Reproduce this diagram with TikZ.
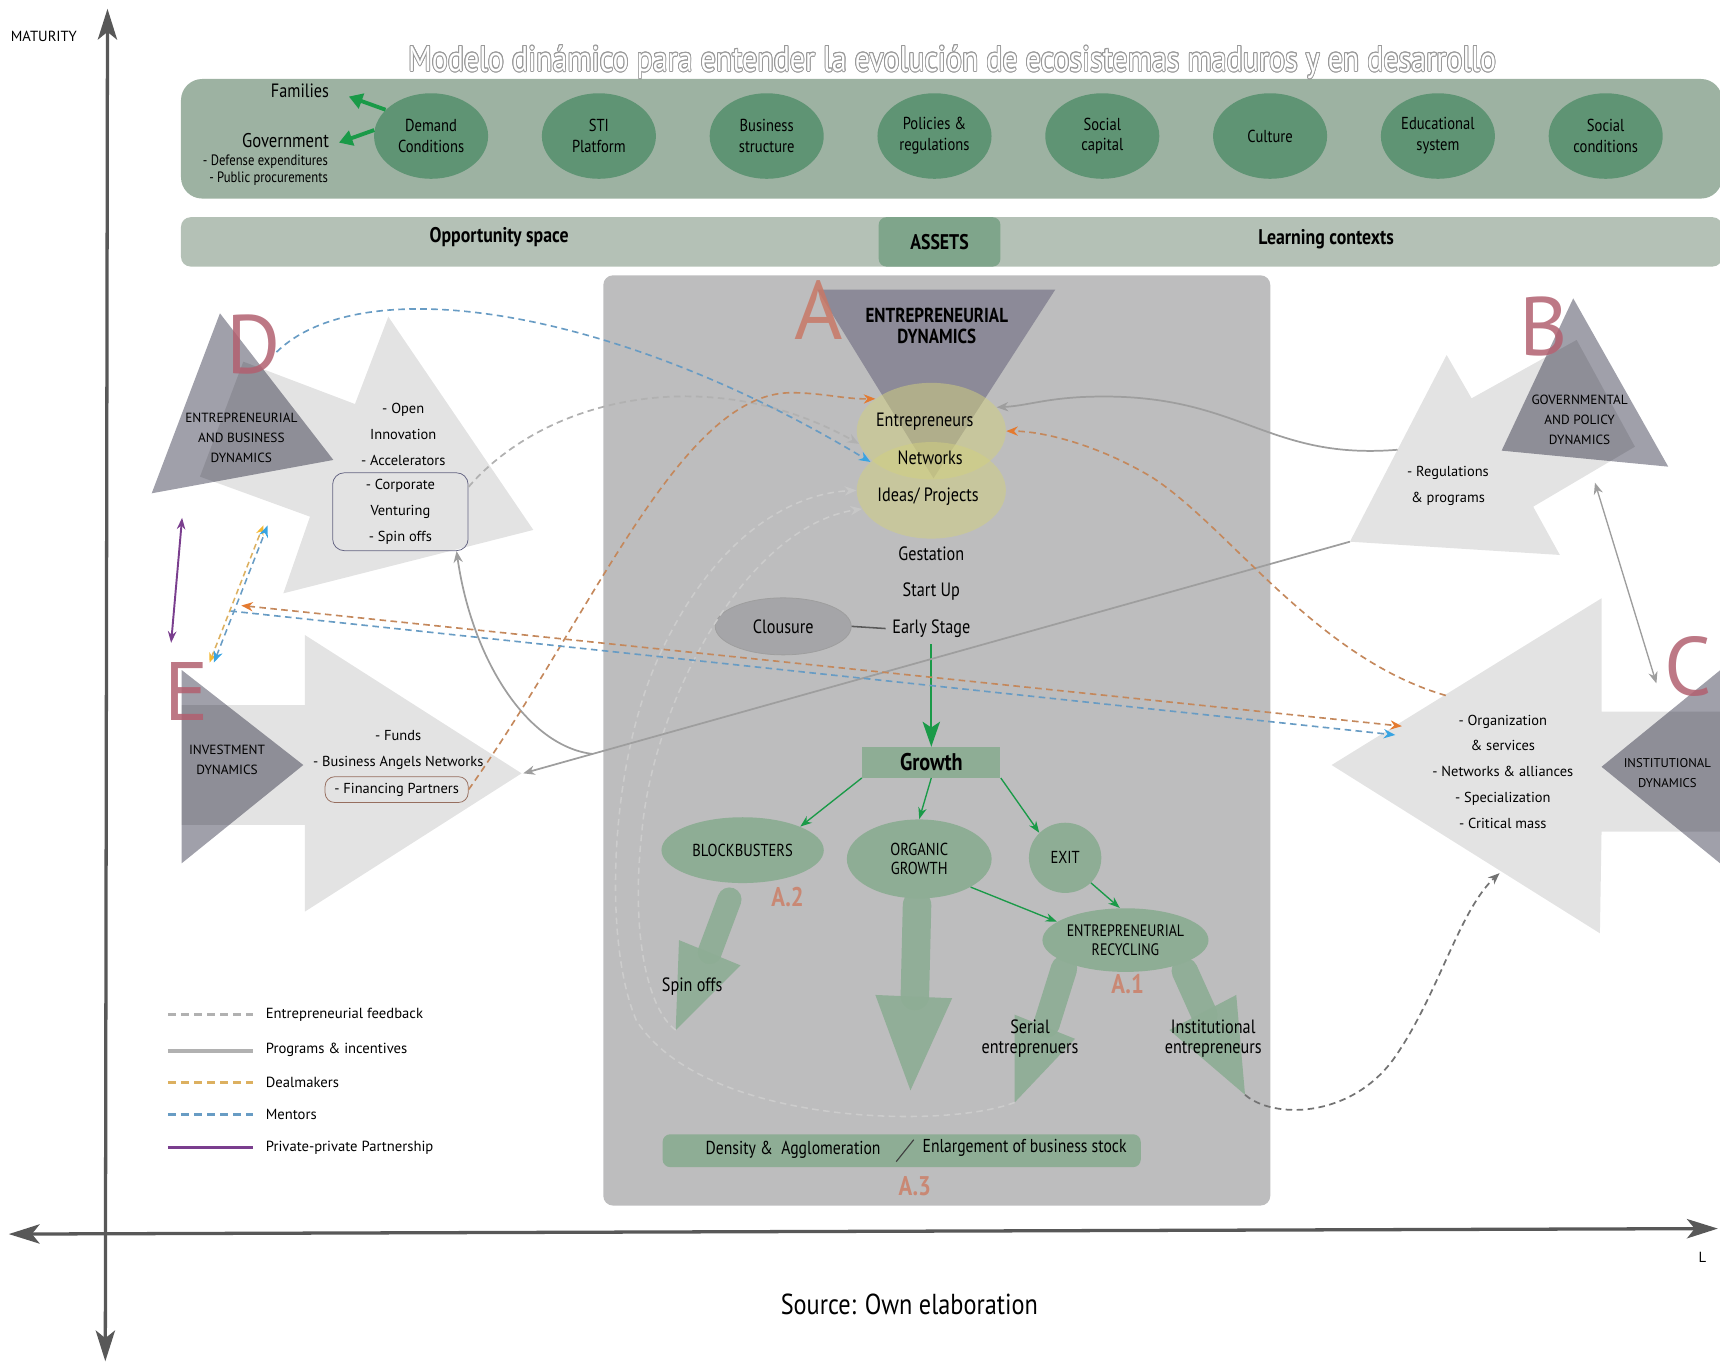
\documentclass[tikz,border=0pt]{standalone}
\usepackage{fontspec}
\setmainfont{PT Sans}
\newfontfamily\condfont[FakeStretch=0.84]{PT Sans}
\usepackage{contour}
\contourlength{0.45pt}
\usetikzlibrary{arrows.meta,positioning,shapes.geometric}

\definecolor{bandgreen}{RGB}{157,178,162}
\definecolor{circgreen}{RGB}{95,148,116}
\definecolor{bandlight}{RGB}{180,193,182}
\definecolor{assetgreen}{RGB}{127,165,139}
\definecolor{panelgray}{RGB}{189,189,190}
\definecolor{sage}{RGB}{142,173,149}
\definecolor{leafgreen}{RGB}{26,154,72}
\definecolor{duskgray}{RGB}{160,160,170}
\definecolor{slate}{RGB}{140,138,152}
\definecolor{roseletter}{RGB}{178,96,112}
\definecolor{aletter}{RGB}{200,120,102}
\definecolor{salmon}{RGB}{201,136,116}
\definecolor{oliveglow}{RGB}{210,208,128}
\definecolor{dealbrown}{RGB}{196,136,92}
\definecolor{tiporange}{RGB}{228,122,48}
\definecolor{mentorblue}{RGB}{104,156,196}
\definecolor{tipblue}{RGB}{56,164,226}
\definecolor{goldline}{RGB}{220,176,96}
\definecolor{tipgold}{RGB}{244,184,48}
\definecolor{plum}{RGB}{122,62,142}
\definecolor{axisgray}{RGB}{88,88,88}
\definecolor{progray}{RGB}{158,158,158}
\definecolor{boxrim}{RGB}{100,100,130}
\definecolor{finrim}{RGB}{150,110,95}
\definecolor{closefill}{RGB}{165,165,168}

\tikzset{
  axishead/.tip={Stealth[length=16pt,width=10pt,inset=4pt]},
  dealhead/.tip={Stealth[length=6pt,width=4.8pt,color=tiporange]},
  mentorhead/.tip={Stealth[length=6pt,width=4.8pt,color=tipblue]},
  goldhead/.tip={Stealth[length=5pt,width=4pt,color=tipgold]},
  greyhead/.tip={Stealth[length=6pt,width=4.8pt]},
  greenhead/.tip={Stealth[length=6pt,width=4.4pt]},
  axisline/.style={draw=axisgray,line width=1.7pt,axishead-axishead},
  axistext/.style={font=\fontsize{7.6}{8}\selectfont,inner sep=0pt},
  factorcirc/.style={ellipse,fill=circgreen,minimum width=2.08cm,minimum height=1.56cm,
    inner sep=0pt,align=center,font=\condfont\fontsize{9}{10.8}\selectfont},
  bandtext/.style={font=\condfont\bfseries\fontsize{11}{11}\selectfont},
  condtext/.style={align=center,font=\condfont\fontsize{10}{10.4}\selectfont},
  boldcond/.style={align=center,font=\condfont\bfseries\fontsize{10.5}{10.8}\selectfont},
  stage/.style={ellipse,fill=sage,inner sep=0pt,align=center,
    font=\condfont\fontsize{9}{10}\selectfont},
  yellowcirc/.style={ellipse,fill=oliveglow,fill opacity=.52,minimum width=2.72cm,
    minimum height=1.76cm,inner sep=0pt},
  listlabel/.style={align=center,font=\fontsize{7.5}{13.4}\selectfont},
  dynlabel/.style={align=center,font=\fontsize{6.9}{10.3}\selectfont},
  legtext/.style={anchor=west,inner sep=0pt,font=\fontsize{7.6}{8}\selectfont},
  bigletter/.style={text=roseletter,text opacity=.85,inner sep=0pt,
    font=\fontsize{43}{43}\selectfont},
  subtag/.style={text=salmon,font=\condfont\bfseries\fontsize{14}{14}\selectfont},
  dusk/.style={fill=duskgray},
  pale/.style={fill=black,fill opacity=.11},
  fatshaft/.style={draw=sage,line width=#1,line cap=round,opacity=.92},
  fathead/.style={fill=sage,opacity=.92},
  growarrow/.style={draw=leafgreen,line width=.7pt,-greenhead},
  demandarrow/.style={draw=leafgreen,line width=2pt,-{Triangle[length=7pt,width=8pt]}},
  feedback/.style={draw=progray!80,line width=.9pt,dash pattern=on 3.4pt off 2.3pt,-greyhead},
  feedbackin/.style={draw=white!80!black,line width=.8pt,dash pattern=on 3.4pt off 2.3pt,
    -{Stealth[length=6pt,width=4.8pt,color=white!78!black]}},
  feedbackdark/.style={draw=black!55,line width=.9pt,dash pattern=on 3.4pt off 2.3pt,-greyhead},
  dealline/.style={draw=dealbrown,line width=.85pt,dash pattern=on 3.4pt off 2.3pt},
  mentorline/.style={draw=mentorblue,line width=.85pt,dash pattern=on 3.4pt off 2.3pt},
  goldpair/.style={draw=goldline,line width=.8pt,dash pattern=on 3pt off 2pt,goldhead-goldhead},
  progline/.style={draw=progray,line width=.9pt,-greyhead},
  pppline/.style={draw=plum,line width=1pt,{Stealth[length=6pt,width=4.4pt]}-{Stealth[length=6pt,width=4.4pt]}}
}

\begin{document}
\begin{tikzpicture}[x=0.02cm,y=-0.02cm,line join=round]
\useasboundingbox (0,0) rectangle (1568,1242);

% bands of the ecosystem
\fill[bandgreen,rounded corners=11pt] (165,72) rectangle (1570,181);
\fill[bandlight,rounded corners=5pt] (165,198) rectangle (1570,243);
\fill[panelgray,rounded corners=5pt] (550,251) rectangle (1158,1099);

\node[text=white,font=\condfont\fontsize{18.5}{19}\selectfont] (title) at (868,57)
  {\contour{black!40}{Modelo dinámico para entender la evolución de ecosistemas maduros y en desarrollo}};

\node[factorcirc] (demand) at (393,124) {Demand\\Conditions};
\begin{scope}[node distance=3.06cm,on grid]
  \node[factorcirc] (sti) [right=of demand] {STI\\Platform};
  \node[factorcirc] (business) [right=of sti] {Business\\structure};
  \node[factorcirc] (policies) [right=of business] {Policies \&\\regulations};
  \node[factorcirc] (socialcap) [right=of policies] {Social\\capital};
  \node[factorcirc] (culture) [right=of socialcap] {Culture};
  \node[factorcirc] (education) [right=of culture] {Educational\\system};
  \node[factorcirc] (socialcond) [right=of education] {Social\\conditions};
\end{scope}

\node[anchor=east,inner sep=1pt,font=\condfont\fontsize{10}{11}\selectfont] (families) at (302,83) {Families};
\node[anchor=east,inner sep=1pt,font=\condfont\fontsize{10.3}{11}\selectfont] (government) at (302,128) {Government};
\node[anchor=east,inner sep=1pt,align=right,font=\condfont\fontsize{7.8}{9}\selectfont] (govlist) at (301,155)
  {- Defense expenditures\\- Public procurements};
\coordinate (famtip) at (318,88);
\coordinate (govtip) at (309,130);
\draw[demandarrow] (demand.150) -- (famtip);
\draw[demandarrow] (demand.174) -- (govtip);

\node[bandtext] (opportunity) at (455,216) {Opportunity space};
\node[bandtext,fill=assetgreen,rounded corners=4pt,minimum width=2.22cm,minimum height=.9cm] (assets) at (856.5,220.5) {ASSETS};
\node[bandtext] (learning) at (1209,218) {Learning contexts};

% D: entrepreneurial and business dynamics
\fill[dusk] (200.5,285.6) -- (138.3,449.7) -- (303.9,419.3) -- cycle;
\fill[pale] (221.8,329.7) -- (323.6,368.3) -- (354,288.7) -- (486.2,483.1) -- (258.3,540.9) -- (282.6,471) -- (182.3,434.5) -- cycle;
% B: governmental and policy dynamics
\fill[dusk] (1434.2,272) -- (1368.9,410.8) -- (1520.8,425.4) -- cycle;
\fill[pale] (1437.3,309.9) -- (1341.5,363.1) -- (1318.8,323.6) -- (1230.6,493.8) -- (1422,505.9) -- (1397.7,461.9) -- (1490.4,407.2) -- cycle;
% C: institutional dynamics
\fill[dusk] (1460,699) -- (1600,585) -- (1600,813) -- cycle;
\fill[pale] (1600,648.8) -- (1460,648.8) -- (1460,545.4) -- (1213.9,697.4) -- (1458.5,850.8) -- (1460,758.1) -- (1600,758.1) -- cycle;
% E: investment dynamics
\fill[dusk] (276.5,697.4) -- (165.6,610.8) -- (165.6,787) -- cycle;
\fill[pale] (165.6,642.7) -- (278,642.7) -- (278,578.9) -- (475.5,705) -- (278,831) -- (278,752) -- (165.6,752) -- cycle;

\node[bigletter] (dletter) at (231,314) {D};
\node[bigletter] (bletter) at (1407,298) {B};
\node[bigletter] (cletter) at (1539,608) {C};
\node[bigletter] (eletter) at (170,630) {E};

\node[dynlabel] (dlabel) at (220,399) {ENTREPRENEURIAL\\AND BUSINESS\\DYNAMICS};
\node[dynlabel] (blabel) at (1440,383) {GOVERNMENTAL\\AND POLICY\\DYNAMICS};
\node[dynlabel,font=\fontsize{6.6}{10.3}\selectfont] (clabel) at (1520,705) {INSTITUTIONAL\\DYNAMICS};
\node[dynlabel] (elabel) at (207,693) {INVESTMENT\\DYNAMICS};

\node[listlabel] (dlist) at (367.6,396) {- Open\\Innovation\\- Accelerators};
\node[listlabel,draw=boxrim,rounded corners=6pt,minimum width=2.47cm,minimum height=1.42cm] (dbox) at (365,466.5)
  {- Corporate\\Venturing\\- Spin offs};
\node[listlabel] (blist) at (1320,443) {- Regulations\\\& programs};
\node[listlabel] (clist) at (1370,703.5) {- Organization\\\& services\\- Networks \& alliances\\- Specialization\\- Critical mass};
\node[listlabel] (elist) at (363,683.6) {- Funds\\- Business Angels Networks};
\node[listlabel,draw=finrim,rounded corners=5pt,minimum width=2.61cm,minimum height=.47cm,inner sep=1pt] (finbox) at (361.6,719.8)
  {- Financing Partners};

% A: entrepreneurial dynamics
\fill[slate] (745,264) -- (962,264) -- (851,436) -- cycle;
\node[yellowcirc] (ecirc) at (849,393) {};
\node[yellowcirc] (icirc) at (849,447) {};
\node[bigletter,text=aletter] (aletter) at (746,283) {A};
\node[boldcond] (adyn) at (854,297) {ENTREPRENEURIAL\\DYNAMICS};
\node[condtext] (entre) at (843,384) {Entrepreneurs};
\node[condtext] (networks) at (848,417) {Networks};
\node[condtext] (ideas) at (846,453) {Ideas/ Projects};
\node[condtext] (gestation) at (849,505) {Gestation};
\begin{scope}[node distance=.68cm,on grid]
  \node[condtext] (startup) [below=of gestation] {Start Up};
  \node[condtext] (early) [below=of startup] {Early Stage};
\end{scope}
\node[condtext,ellipse,fill=closefill,draw=black!38,minimum width=2.48cm,minimum height=1.04cm,inner sep=0pt] (closure) at (714,571) {Clousure};
\draw[draw=black!65,line width=.8pt] (closure.east) -- (early.west);

\node[boldcond,fill=sage,minimum width=2.52cm,minimum height=.52cm,font=\condfont\bfseries\fontsize{12.5}{13}\selectfont] (growth) at (849,695) {Growth};
\draw[draw=leafgreen,line width=1.1pt,-{Stealth[length=13pt,width=9pt,inset=3pt]}] (early.south) -- (growth.north);

% fat arrows
\draw[fatshaft=.44cm] (665,820) -- (647,868);
\fill[fathead] (619,857) -- (675,880) -- (616,939) -- cycle;
\draw[fatshaft=.52cm] (836,825) -- (834,908);
\fill[fathead] (798,907) -- (868,910) -- (830,994) -- cycle;
\draw[fatshaft=.48cm] (970,883) -- (954,934);
\fill[fathead] (925,925) -- (980,947) -- (925,1005) -- cycle;
\draw[fatshaft=.48cm] (1080,885) -- (1098,925);
\fill[fathead] (1127,907) -- (1066,939) -- (1135,998) -- cycle;

\node[stage,minimum width=2.96cm,minimum height=1.2cm] (blockb) at (677,775) {BLOCKBUSTERS};
\node[stage,minimum width=2.64cm,minimum height=1.44cm] (organic) at (838,783) {ORGANIC\\GROWTH};
\node[stage,minimum width=1.32cm,minimum height=1.28cm] (exit) at (971,782) {EXIT};
\node[stage,minimum width=2.92cm,minimum height=1.16cm,font=\condfont\fontsize{8.6}{10}\selectfont] (recycle) at (1026,857) {ENTREPRENEURIAL\\RECYCLING};
\draw[growarrow] (growth.south west) -- (blockb.north east);
\draw[growarrow] (growth.south) -- (organic.north);
\draw[growarrow] (growth.south east) -- (exit.north west);
\draw[growarrow] (organic.south east) -- (recycle.165);
\draw[growarrow] (exit.south east) -- (recycle.100);

\node[subtag] (a2) at (718,818) {A.2};
\node[subtag] (a1) at (1028,897) {A.1};
\node[subtag] (a3) at (834,1081) {A.3};

\node[condtext] (spinoffs) at (631,899) {Spin offs};
\node[condtext] (serial) at (939,947) {Serial\\entreprenuers};
\node[condtext] (institutional) at (1106,947) {Institutional\\entrepreneurs};

\node[fill=sage,rounded corners=4pt,minimum width=8.72cm,minimum height=.6cm] (density) at (822,1049) {};
\node[condtext,font=\condfont\fontsize{9.7}{10}\selectfont] (densleft) at (723,1048) {Density \&\ \ Agglomeration};
\node[condtext,font=\condfont\fontsize{9.7}{10}\selectfont] (densright) at (934,1046) {Enlargement of business stock};
\coordinate (slashlo) at (817,1059);
\coordinate (slashhi) at (833,1039);
\draw[black!75,line width=.6pt] (slashlo) -- (slashhi);

% entrepreneurial feedback
\coordinate (spintip) at (616,939);
\coordinate (serialtip) at (925,1005);
\coordinate (insttip) at (1135,998);
\coordinate (corgtip) at (1367,796);
\draw[feedbackin] (serialtip) .. controls (860,1030) and (640,1025) .. (580,930)
  .. controls (550,860) and (555,700) .. (600,600) .. controls (650,490) and (720,450) .. (icirc.west);
\draw[feedbackin] (spintip) .. controls (590,920) and (575,850) .. (585,760)
  .. controls (595,640) and (680,480) .. (icirc.195);
\draw[feedback] (dbox.20) .. controls (500,360) and (650,330) .. (ecirc.190);
\draw[feedbackdark] (insttip) .. controls (1160,1020) and (1230,1020) .. (1270,966)
  .. controls (1310,910) and (1330,830) .. (corgtip);

% programs & incentives
\coordinate (bleft) at (1274,410);
\coordinate (bapex) at (1230.6,493.8);
\coordinate (eapex) at (477,705);
\coordinate (pjoin) at (540,687.3);
\draw[progline] (bleft) .. controls (1150,420) and (1130,355) .. (985,362) .. controls (950,364) and (935,370) .. (ecirc.20);
\draw[progline] (bapex) -- (eapex);
\draw[progline] (pjoin) .. controls (480,680) and (430,600) .. (dbox.-35);
\coordinate (bctop) at (1454,440);
\coordinate (bcbot) at (1510,623);
\draw[draw=progray,line width=.7pt,greyhead-greyhead] (bctop) -- (bcbot);

% dealmakers and mentors
\coordinate (cupper) at (1318,634);
\draw[dealline,-dealhead] (finbox.east) .. controls (540,560) and (620,360) .. (720,358)
  .. controls (750,358) and (770,364) .. (ecirc.150);
\draw[dealline,-dealhead] (cupper) .. controls (1200,600) and (1120,480) .. (1050,435)
  .. controls (1000,405) and (950,393) .. (ecirc.east);
\coordinate (deleft) at (220,552);
\coordinate (deright) at (1278,662);
\draw[dealline,dealhead-dealhead] (deleft) -- (deright);
\coordinate (meleft) at (210,557);
\coordinate (meright) at (1272,670);
\draw[mentorline,-mentorhead] (meleft) -- (meright);
\coordinate (dtip) at (252,321);
\draw[mentorline,-mentorhead] (dtip) .. controls (330,245) and (560,280) .. (icirc.155);
\coordinate (dgoldtop) at (240,479);
\coordinate (egoldbot) at (191,604);
\coordinate (dbluetop) at (244,479);
\coordinate (ebluebot) at (195,604);
\draw[goldpair] (egoldbot) -- (dgoldtop);
\draw[mentorline,line width=.8pt,mentorhead-mentorhead] (ebluebot) -- (dbluetop);
\coordinate (pppd) at (166,472);
\coordinate (pppe) at (156,586);
\draw[pppline] (pppe) -- (pppd);

% legend
\coordinate (leg1) at (153,925);  \coordinate (leg1e) at (231,925);
\coordinate (leg2) at (153,958);  \coordinate (leg2e) at (231,958);
\coordinate (leg3) at (153,987);  \coordinate (leg3e) at (231,987);
\coordinate (leg4) at (153,1016); \coordinate (leg4e) at (231,1016);
\coordinate (leg5) at (153,1046); \coordinate (leg5e) at (231,1046);
\draw[draw=progray!80,line width=1.6pt,dash pattern=on 4pt off 2.8pt] (leg1) -- (leg1e);
\draw[draw=progray!80,line width=2pt] (leg2) -- (leg2e);
\draw[draw=goldline,line width=1.7pt,dash pattern=on 4pt off 2.8pt] (leg3) -- (leg3e);
\draw[draw=mentorblue,line width=1.7pt,dash pattern=on 4pt off 2.8pt] (leg4) -- (leg4e);
\draw[draw=plum,line width=1.7pt] (leg5) -- (leg5e);
\node[legtext] (legfeed) at (242,925) {Entrepreneurial feedback};
\node[legtext] (legprog) at (242,957) {Programs \& incentives};
\node[legtext] (legdeal) at (242,987) {Dealmakers};
\node[legtext] (legment) at (242,1016) {Mentors};
\node[legtext] (legppp) at (242,1046) {Private-private Partnership};

% axes
\coordinate (ytop) at (98,8);
\coordinate (ybot) at (96,1241);
\coordinate (xleft) at (8,1125);
\coordinate (xright) at (1566,1120);
\draw[axisline] (ybot) -- (ytop);
\draw[axisline] (xleft) -- (xright);
\node[axistext] (maturity) at (40,33) {MATURITY};
\node[axistext] (lmark) at (1552,1146) {L};
\node[font=\condfont\fontsize{15}{15}\selectfont] (source) at (829,1189) {Source: Own elaboration};
\end{tikzpicture}
\end{document}
